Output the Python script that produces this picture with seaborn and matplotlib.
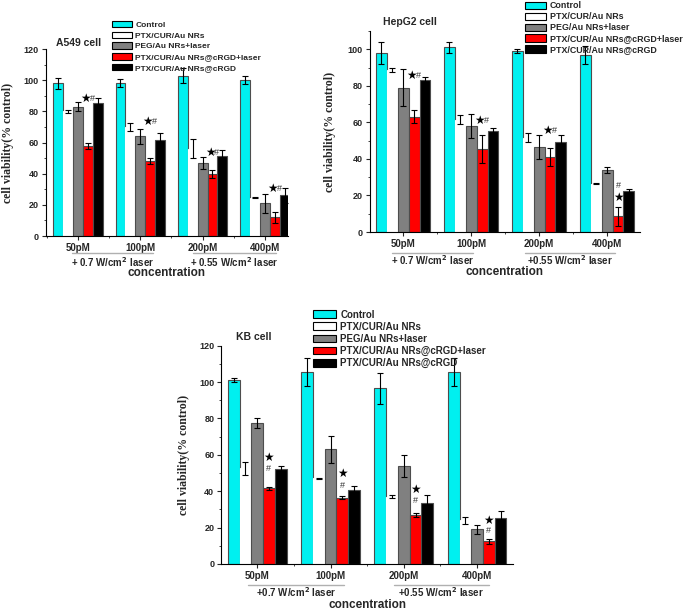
import matplotlib
matplotlib.use('Agg')
import matplotlib.pyplot as plt
import matplotlib.patches as mpatches
from matplotlib.ticker import MultipleLocator
import pandas as pd
import seaborn as sns

# ---- data ----
concs = ['50pM', '100pM', '200pM', '400pM']
groups = ['Control', 'PTX/CUR/Au NRs', 'PEG/Au NRs+laser',
          'PTX/CUR/Au NRs@cRGD+laser', 'PTX/CUR/Au NRs@cRGD']
colors = ['#00f0f0', '#ffffff', '#808080', '#ff0000', '#000000']

a549_mean = [[98, 98, 103, 100], [80, 70, 56, 24.5], [83, 64, 47, 21],
             [58, 48, 40, 12], [85.5, 61.5, 51.5, 26]]
a549_err = [[3.5, 2.5, 5, 2.5], [1, 2.5, 6, 0.4], [3, 5, 4, 6],
            [2, 2, 2.5, 3.5], [3, 4.5, 3.5, 5]]

hepg2_mean = [[98, 101, 99, 97], [88.5, 61.5, 51.5, 26.5], [79, 58, 46.5, 34],
              [63, 45.5, 41, 8.5], [83, 55.5, 49, 22.5]]
hepg2_err = [[6, 3, 1, 5], [1, 2.5, 2.5, 0.3], [10, 6.5, 6.5, 1.5],
             [3.5, 7.5, 5, 5], [2, 1.5, 4, 1]]

kb_mean = [[101, 105.5, 96.5, 105.5], [52.5, 47, 37, 24], [77.5, 63, 54, 19],
           [41.5, 36.5, 27, 12.5], [52, 40.5, 33.5, 25.5]]
kb_err = [[1.2, 7.5, 8.5, 7.5], [3.5, 0.5, 1, 2], [3, 7.5, 6, 2.5],
          [1, 1, 1, 1.5], [2, 2.5, 4.5, 3.5]]

sns.set_theme(style='white')
plt.rcParams['font.family'] = ['Liberation Sans', 'DejaVu Sans']
plt.rcParams['font.weight'] = 'bold'

fig = plt.figure(figsize=(6.85, 6.13), dpi=100)

panels = [
    dict(name='A549 cell', mean=a549_mean, err=a549_err, rect=[0.067, 0.615, 0.353, 0.305],
         ylim=120, xlim=(-0.52, 3.37), title_xy=(0.04, 1.03), ylab_x=-0.13,
         leg=(0.1635, 0.966), leg_fs=6, leg_sp=0.3,
         star_y=[88, 73.5, 53.5, 30.6], star_dx=[-0.04] * 4,
         hash_y=[88, 73.5, 53.5, 30.6], hash_dx=[0.07] * 4,
         br1=(-0.1, 1.2), br2=(1.85, 3.18), br_y=-0.09, lab_y=-0.14, conc_y=-0.2,
         laser=['+ 0.7 W/cm$^2$ laser', '+ 0.55 W/cm$^2$ laser']),
    dict(name='HepG2 cell', mean=hepg2_mean, err=hepg2_err, rect=[0.540, 0.6215, 0.394, 0.328],
         ylim=110, xlim=(-0.49, 3.48), title_xy=(0.05, 1.045), ylab_x=-0.124,
         leg=(0.766, 0.998), leg_fs=6.4, leg_sp=0.22,
         star_y=[85.4, 61, 55.5, 19], star_dx=[-0.04, -0.04, -0.04, 0],
         hash_y=[85.4, 61, 55.5, 25.5], hash_dx=[0.07, 0.07, 0.07, 0],
         br1=(-0.16, 1.03), br2=(1.79, 3.12), br_y=-0.104, lab_y=-0.14, conc_y=-0.2,
         laser=['+ 0.7 W/cm$^2$ laser', '+0.55 W/cm$^2$ laser']),
    dict(name='KB cell', mean=kb_mean, err=kb_err, rect=[0.323, 0.080, 0.426, 0.356],
         ylim=120, xlim=(-0.49, 3.49), title_xy=(0.05, 1.04), ylab_x=-0.106,
         leg=(0.457, 0.495), leg_fs=7, leg_sp=0.22,
         star_y=[58.7, 49.5, 40.8, 24], star_dx=[0] * 4,
         hash_y=[52.3, 43.3, 35, 18.3], hash_dx=[0] * 4,
         br1=(-0.12, 1.18), br2=(1.86, 3.16), br_y=-0.096, lab_y=-0.13, conc_y=-0.19,
         laser=['+0.7 W/cm$^2$ laser', '+0.55 W/cm$^2$ laser']),
]

for p in panels:
    ax = fig.add_axes(p['rect'])
    rows = []
    for gi, g in enumerate(groups):
        for ci, c in enumerate(concs):
            rows.append({'conc': c, 'group': g, 'viability': p['mean'][gi][ci]})
    df = pd.DataFrame(rows)

    sns.barplot(data=df, x='conc', y='viability', hue='group', order=concs,
                hue_order=groups, palette=colors, width=0.8, errorbar=None,
                edgecolor='#4d4d4d', linewidth=0.8, saturation=1, legend=False, ax=ax)

    bar_conts = list(ax.containers)
    for gi, cont in enumerate(bar_conts):
        xs = [b.get_x() + b.get_width() / 2 for b in cont]
        if gi == 1:
            for b in cont:
                b.set_edgecolor('white')
        ax.errorbar(xs, p['mean'][gi], yerr=p['err'][gi], fmt='none', ecolor='black',
                    elinewidth=0.8, capsize=2.2, capthick=0.8, zorder=5)

    # significance marks above red bars
    red = bar_conts[3]
    for i, b in enumerate(red):
        xc = b.get_x() + b.get_width() / 2
        ax.text(xc + p['star_dx'][i], p['star_y'][i], '★', ha='center', va='center',
                fontsize=8.5, family='DejaVu Sans', color='black')
        ax.text(xc + p['hash_dx'][i], p['hash_y'][i], '#', ha='center', va='center',
                fontsize=6.5, color='#333333', fontweight='normal')

    ax.set_xlim(*p['xlim'])
    ax.set_ylim(0, p['ylim'])
    ax.yaxis.set_major_locator(MultipleLocator(20))
    ax.yaxis.set_minor_locator(MultipleLocator(10))
    ax.xaxis.set_minor_locator(MultipleLocator(0.5))
    for s in ['top', 'right']:
        ax.spines[s].set_visible(False)
    for s in ['left', 'bottom']:
        ax.spines[s].set_linewidth(0.8)
        ax.spines[s].set_color('black')
    ax.tick_params(which='major', direction='out', length=3, width=0.8, labelsize=6.5,
                   bottom=True, left=True, pad=2)
    ax.tick_params(axis='x', which='major', labelsize=7)
    ax.tick_params(which='minor', direction='out', length=1.5, width=0.6, bottom=True, left=True)
    for lab in ax.get_xticklabels() + ax.get_yticklabels():
        lab.set_fontweight('bold')

    ax.set_xlabel('')
    ax.set_ylabel('cell viability(% control)', family='Liberation Serif',
                  fontweight='bold', fontsize=8.5)
    ax.yaxis.set_label_coords(p['ylab_x'], 0.5)

    trans = ax.get_xaxis_transform()
    for (x0, x1), txt in zip([p['br1'], p['br2']], p['laser']):
        ax.plot([x0, x1], [p['br_y'], p['br_y']], color='#b0b0b0', lw=1,
                transform=trans, clip_on=False)
        ax.text((x0 + x1) / 2, p['lab_y'], txt, transform=trans, ha='center', va='center',
                fontsize=7, fontweight='bold')
    ax.text(0.5, p['conc_y'], 'concentration', transform=ax.transAxes, ha='center',
            va='center', fontsize=8.5, fontweight='bold')
    ax.text(p['title_xy'][0], p['title_xy'][1], p['name'], transform=ax.transAxes,
            ha='left', va='center', fontsize=7.5, fontweight='bold')

    handles = [mpatches.Patch(facecolor=c, edgecolor='black', linewidth=0.8) for c in colors]
    ax.legend(handles, groups, loc='upper left', bbox_to_anchor=p['leg'],
              bbox_transform=fig.transFigure, frameon=False, borderpad=0,
              borderaxespad=0, handlelength=2.4, handleheight=0.85,
              handletextpad=0.4, labelspacing=p['leg_sp'],
              prop={'size': p['leg_fs'], 'weight': 'bold'})

fig.savefig('out.png', dpi=100)
